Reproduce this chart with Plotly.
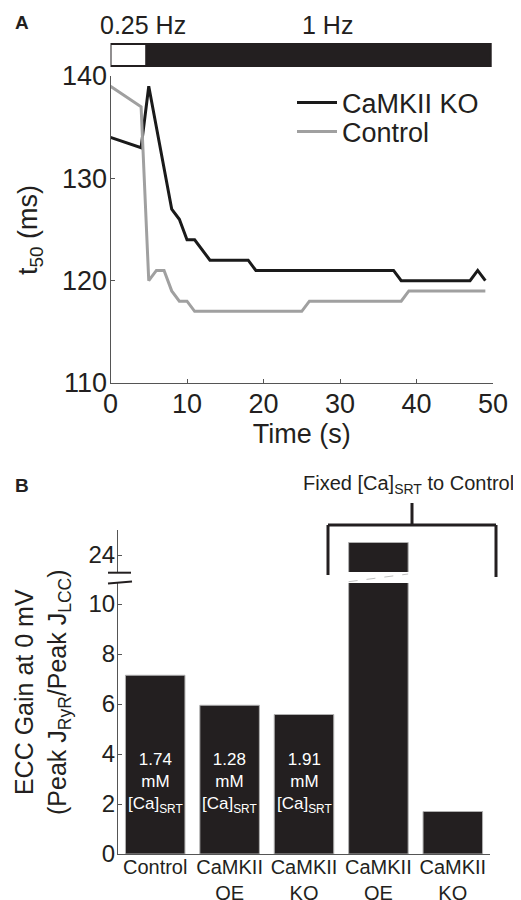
import plotly.graph_objects as go

# ---------------- data ----------------
time_s = [0, 4, 5, 6, 7, 8, 9, 10, 11, 12, 13, 14, 15, 16, 17, 18, 19, 20, 21, 22, 23, 24,
          25, 26, 27, 28, 29, 30, 31, 32, 33, 34, 35, 36, 37, 38, 39, 40, 41, 42, 43, 44,
          45, 46, 47, 48, 49]
t50_ko = [134, 133, 139, 135, 131, 127, 126, 124, 124, 123,
          122, 122, 122, 122, 122, 122,
          121, 121, 121, 121, 121, 121, 121, 121, 121, 121, 121, 121, 121, 121, 121, 121, 121, 121, 121,
          120, 120, 120, 120, 120, 120, 120, 120, 120, 120,
          121, 120]
t50_ctrl = [139, 137, 120, 121, 121, 119, 118, 118,
            117, 117, 117, 117, 117, 117, 117, 117, 117, 117, 117, 117, 117, 117, 117,
            118, 118, 118, 118, 118, 118, 118, 118, 118, 118, 118, 118, 118,
            119, 119, 119, 119, 119, 119, 119, 119, 119, 119, 119]
stim_edges = [0, 4.7, 49.7]           # 0.25 Hz segment, then 1 Hz segment
stim_labels = ["0.25 Hz", "1 Hz"]

bar_pos = [1, 2, 3, 4, 5]
bar_labels = ["Control", "CaMKII<br>OE", "CaMKII<br>KO", "CaMKII<br>OE", "CaMKII<br>KO"]
ecc_gain = [7.15, 5.95, 5.58, 24.5, 1.7]
ca_srt = ["1.74", "1.28", "1.91", None, None]
lower_range = [0, 10.84]
upper_range = [23.32, 25.0]

# ---------------- helpers ----------------
OFF = 8                       # page body margin
W, H = 521 - OFF, 900 - OFF
def fx(px):
    return (px - OFF) / W
def fy(py):
    return 1 - (py - OFF) / H

FONT = "Liberation Sans, Arial, Helvetica, sans-serif"
INK = "#231f20"
AX = "#555555"

fig = go.Figure()

# Panel A lines
fig.add_trace(go.Scatter(x=time_s, y=t50_ko, mode="lines", name="CaMKII KO",
                         line=dict(color="#1a1a1a", width=3), xaxis="x", yaxis="y",
                         legend="legend"))
fig.add_trace(go.Scatter(x=time_s, y=t50_ctrl, mode="lines", name="Control",
                         line=dict(color="#a0a0a0", width=3), xaxis="x", yaxis="y",
                         legend="legend2"))

# Panel B bars (lower segment and upper broken segment)
fig.add_trace(go.Bar(x=bar_pos, y=ecc_gain, width=0.8, xaxis="x2", yaxis="y2",
                     marker=dict(color=INK, line=dict(color="#b0b0b0", width=1)),
                     showlegend=False))
fig.add_trace(go.Bar(x=bar_pos, y=[v if v > upper_range[0] else None for v in ecc_gain],
                     width=0.8, xaxis="x2", yaxis="y3",
                     marker=dict(color=INK, line=dict(color="#b0b0b0", width=1)),
                     showlegend=False))

tickfont_a = dict(family=FONT, size=27, color=INK)
axis_common = dict(showline=True, linecolor=AX, linewidth=1, ticks="inside",
                   tickcolor=AX, ticklen=4, showgrid=False, zeroline=False,
                   automargin=False, ticklabelstandoff=-3)

leg_common = dict(xanchor="left", yanchor="middle", bgcolor="rgba(0,0,0,0)",
                  borderwidth=0, itemwidth=40,
                  font=dict(family=FONT, size=27, color=INK))

fig.update_layout(
    width=W, height=H,
    margin=dict(l=0, r=0, t=0, b=0),
    paper_bgcolor="white", plot_bgcolor="white",
    font=dict(family=FONT, color=INK),
    barmode="overlay",
    xaxis=dict(domain=[fx(110.5), fx(493)], range=[0, 50], anchor="y",
               tickvals=[0, 10, 20, 30, 40, 50], tickfont=tickfont_a,
               title=dict(text="Time (s)", font=dict(family=FONT, size=27, color=INK), standoff=0),
               **axis_common),
    yaxis=dict(domain=[fy(383), fy(76)], range=[110, 140], anchor="x",
               tickvals=[110, 120, 130, 140], tickfont=tickfont_a, **axis_common),
    xaxis2=dict(domain=[fx(118), fx(490)], range=[0.5, 5.5], anchor="y2",
                tickvals=bar_pos, ticktext=bar_labels, ticks="", showline=True,
                linecolor=AX, linewidth=1, showgrid=False, zeroline=False, automargin=False,
                ticklabelstandoff=-5,
                tickfont=dict(family=FONT, size=20, color=INK)),
    yaxis2=dict(domain=[fy(854), fy(583)], range=lower_range, anchor="x2",
                tickvals=[0, 2, 4, 6, 8, 10], tickfont=dict(family=FONT, size=24, color=INK),
                **axis_common),
    yaxis3=dict(domain=[fy(572), fy(530)], range=upper_range, anchor="x2",
                tickvals=[24], tickfont=dict(family=FONT, size=24, color=INK),
                **axis_common),
    legend=dict(x=fx(292), y=fy(103), **leg_common),
    legend2=dict(x=fx(292), y=fy(132), **leg_common),
)

shapes = []
# stimulation frequency bar
fills = ["white", INK]
for i in range(len(stim_edges) - 1):
    shapes.append(dict(type="rect", xref="x", yref="paper",
                       x0=stim_edges[i], x1=stim_edges[i + 1], y0=fy(66), y1=fy(44),
                       fillcolor=fills[i], line=dict(color=INK, width=2)))
# axis break marks
shapes.append(dict(type="line", xref="paper", yref="paper", x0=fx(108), x1=fx(131),
                   y0=fy(572.7), y1=fy(572.7), line=dict(color=INK, width=2)))
shapes.append(dict(type="line", xref="paper", yref="paper", x0=fx(108), x1=fx(132),
                   y0=fy(583.5), y1=fy(581.5), line=dict(color=INK, width=2)))
# break line across the tall bar
shapes.append(dict(type="line", xref="x2", yref="paper", x0=4 - 0.4, x1=4 + 0.4,
                   y0=fy(581.7), y1=fy(574), line=dict(color="#c0c0c0", width=1, dash="dash")))
# bracket
br = dict(color=INK, width=3)
shapes.append(dict(type="line", xref="paper", yref="paper", x0=fx(412), x1=fx(412),
                   y0=fy(503), y1=fy(525), line=br))
shapes.append(dict(type="line", xref="paper", yref="paper", x0=fx(328), x1=fx(496),
                   y0=fy(525), y1=fy(525), line=br))
shapes.append(dict(type="line", xref="paper", yref="paper", x0=fx(328), x1=fx(328),
                   y0=fy(525), y1=fy(575), line=br))
shapes.append(dict(type="line", xref="paper", yref="paper", x0=fx(496), x1=fx(496),
                   y0=fy(525), y1=fy(577), line=br))
fig.update_layout(shapes=shapes)

def note(text, px, py, size, color=INK, angle=0, bold=False):
    return dict(text=f"<b>{text}</b>" if bold else text, x=fx(px), y=fy(py),
                xref="paper", yref="paper", xanchor="center", yanchor="middle",
                textangle=angle, showarrow=False,
                font=dict(family=FONT, size=size, color=color))

ann = []
ann.append(note("A", 22, 22, 19, bold=True))
ann.append(note("B", 22, 485, 19, bold=True))
for lbl, cx in zip(stim_labels, [143, 327]):
    ann.append(note(lbl, cx, 25, 25))
ann.append(note("t<sub>50</sub> (ms)", 30, 230, 27, angle=-90))
ann.append(note("ECC Gain at 0 mV<br>(Peak J<sub>RyR</sub>/Peak J<sub>LCC</sub>)",
                42, 692, 25, angle=-90))
ann.append(note("Fixed [Ca]<sub>SRT</sub> to Control", 408, 484, 20))
for xp, c in zip(bar_pos, ca_srt):
    if c is not None:
        ann.append(dict(text=f"{c}<br>mM<br>[Ca]<sub>SRT</sub>", x=xp, y=2.85,
                        xref="x2", yref="y2", xanchor="center", yanchor="middle",
                        showarrow=False,
                        font=dict(family=FONT, size=17, color="white")))
fig.update_layout(annotations=ann)

fig.write_html("out.html")
